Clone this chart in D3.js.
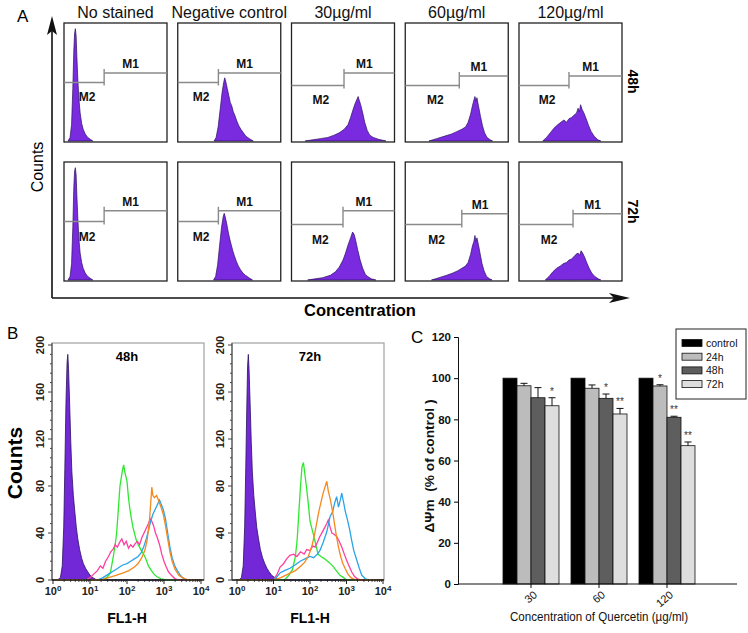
<!DOCTYPE html>
<html><head><meta charset="utf-8">
<script src="https://cdn.jsdelivr.net/npm/d3@7"></script>
<style>
html,body{margin:0;padding:0;background:#fff;}
svg text{font-family:"Liberation Sans",Arial,sans-serif;}
</style></head>
<body>
<svg id="chart" width="748" height="633"></svg>
<script>
// ---------------- DATA ----------------
// Panel A
const concLabels = ["No stained","Negative control","30µg/ml","60µg/ml","120µg/ml"];
const timeLabelsA = ["48h","72h"];
// histograms: [log10 decade, % of box height]
const histA48 = [
  [[0.12,0],[0.2,3],[0.26,14],[0.31,45],[0.35,78],[0.38,92],[0.41,96],[0.44,90],[0.47,72],[0.51,52],[0.55,36],[0.6,24],[0.66,15],[0.72,10],[0.8,6],[0.9,3],[1.0,1.5],[1.1,0]],
  [[1.4,0],[1.48,3],[1.56,12],[1.64,27],[1.72,42],[1.78,50],[1.82,54],[1.86,51],[1.92,45],[1.98,39],[2.04,33],[2.1,30],[2.16,25],[2.22,22],[2.3,17],[2.38,13],[2.46,10],[2.56,7],[2.66,4],[2.8,2],[2.95,0]],
  [[0.5,0],[0.8,1],[1.1,2],[1.4,3],[1.65,5],[1.85,7],[2.05,10],[2.2,14],[2.3,20],[2.4,27],[2.48,32],[2.54,35],[2.6,38],[2.64,35],[2.7,31],[2.78,24],[2.86,16],[2.96,9],[3.06,5],[3.2,3],[3.4,1.5],[3.7,0]],
  [[0.9,0],[1.2,2],[1.5,4],[1.8,6],[2.0,8],[2.2,10],[2.35,12],[2.45,16],[2.55,23],[2.62,30],[2.68,35],[2.72,38],[2.76,34],[2.8,37],[2.86,30],[2.94,21],[3.02,13],[3.1,7],[3.2,3],[3.32,1],[3.42,0]],
  [[0.9,0],[1.05,3],[1.2,7],[1.35,11],[1.5,14],[1.62,16],[1.74,18],[1.84,16],[1.94,19],[2.04,20],[2.14,22],[2.24,24],[2.3,28],[2.35,25],[2.4,31],[2.46,27],[2.53,24],[2.62,19],[2.72,13],[2.82,8],[2.94,4],[3.08,1],[3.2,0]]
];
const histA72 = [
  [[0.12,0],[0.2,3],[0.26,14],[0.31,45],[0.35,80],[0.38,93],[0.41,96],[0.44,90],[0.47,72],[0.51,52],[0.55,35],[0.6,23],[0.66,15],[0.72,10],[0.8,6],[0.9,3],[1.0,1.5],[1.1,0]],
  [[1.38,0],[1.46,3],[1.54,13],[1.62,30],[1.7,46],[1.76,54],[1.8,57],[1.84,54],[1.9,48],[1.96,41],[2.02,35],[2.08,30],[2.14,25],[2.2,21],[2.28,16],[2.36,12],[2.44,9],[2.54,6],[2.64,4],[2.78,2],[2.92,0]],
  [[0.6,0],[0.9,1],[1.2,2],[1.5,4],[1.7,7],[1.85,11],[2.0,17],[2.1,23],[2.2,30],[2.3,36],[2.38,41],[2.44,39],[2.5,34],[2.58,26],[2.68,17],[2.78,10],[2.88,5],[2.98,3],[3.12,1],[3.3,0]],
  [[1.0,0],[1.3,2],[1.6,4],[1.85,6],[2.05,8],[2.2,10],[2.35,12],[2.45,15],[2.55,22],[2.62,29],[2.68,33],[2.72,38],[2.76,33],[2.8,36],[2.86,30],[2.93,22],[3.0,14],[3.08,8],[3.18,3],[3.3,1],[3.4,0]],
  [[1.0,0],[1.15,3],[1.3,7],[1.45,10],[1.6,12],[1.72,14],[1.84,15],[1.94,17],[2.04,18],[2.14,20],[2.22,22],[2.3,23],[2.36,21],[2.42,25],[2.48,23],[2.55,20],[2.64,15],[2.74,10],[2.84,6],[2.96,3],[3.1,1],[3.2,0]]
];
// gate thresholds (decade) per panel
const gateA48 = [1.55, 1.57, 2.04, 2.10, 1.94];
const gateA72 = [1.55, 1.57, 2.00, 2.20, 2.10];

// Panel B
const timeLabelsB = ["48h","72h"];
const countTicks = [0,40,80,120,160,200];
const decadeTicks = [0,1,2,3,4];
const purple48 = [[0,0],[0.12,0],[0.2,2],[0.25,12],[0.29,45],[0.32,95],[0.35,150],[0.38,185],[0.4,192],[0.42,180],[0.45,150],[0.48,118],[0.51,92],[0.55,72],[0.59,58],[0.63,45],[0.67,35],[0.72,26],[0.77,19],[0.82,14],[0.88,10],[0.94,7],[1.0,4],[1.08,2],[1.18,0],[4,0]];
const green48 = [[0,0],[1.3,0],[1.45,2],[1.55,6],[1.63,20],[1.68,30],[1.72,40],[1.77,62],[1.81,80],[1.85,88],[1.88,94],[1.91,98],[1.94,92],[1.97,88],[2.0,84],[2.04,70],[2.08,60],[2.12,52],[2.16,45],[2.2,40],[2.25,34],[2.3,30],[2.34,28],[2.39,25],[2.43,23],[2.48,20],[2.52,17],[2.58,12],[2.66,8],[2.73,5],[2.8,3],[2.92,1],[3.05,0],[4,0]];
const pink48 = [[0,0],[0.9,0],[1.0,2],[1.1,5],[1.2,8],[1.28,12],[1.35,10],[1.42,16],[1.5,20],[1.56,24],[1.62,26],[1.68,30],[1.74,28],[1.8,32],[1.86,35],[1.92,30],[1.98,33],[2.04,27],[2.1,30],[2.16,28],[2.22,31],[2.28,33],[2.34,30],[2.4,36],[2.46,40],[2.52,44],[2.58,48],[2.63,52],[2.67,50],[2.72,46],[2.77,40],[2.82,36],[2.88,30],[2.94,22],[3.0,16],[3.06,11],[3.12,7],[3.2,4],[3.3,1],[3.4,0],[4,0]];
const blue48 = [[0,0],[1.2,0],[1.35,2],[1.5,5],[1.6,7],[1.7,9],[1.8,11],[1.9,13],[2.0,14],[2.1,16],[2.2,18],[2.3,20],[2.38,23],[2.45,28],[2.52,35],[2.58,42],[2.64,50],[2.7,56],[2.76,60],[2.82,64],[2.88,68],[2.93,64],[2.98,60],[3.04,52],[3.1,40],[3.16,28],[3.22,19],[3.28,13],[3.34,9],[3.42,5],[3.5,2],[3.6,0],[4,0]];
const orange48 = [[0,0],[1.3,0],[1.5,2],[1.7,4],[1.9,6],[2.05,8],[2.2,11],[2.3,14],[2.4,19],[2.48,25],[2.54,33],[2.6,48],[2.64,65],[2.67,79],[2.7,72],[2.74,70],[2.8,72],[2.86,67],[2.92,62],[2.98,56],[3.04,46],[3.1,35],[3.16,24],[3.22,16],[3.3,9],[3.4,4],[3.5,2],[3.65,0],[4,0]];
const purple72 = [[0,0],[0.05,0],[0.12,2],[0.17,12],[0.21,45],[0.24,95],[0.27,150],[0.29,182],[0.31,192],[0.33,180],[0.36,150],[0.39,118],[0.42,92],[0.46,72],[0.5,58],[0.54,45],[0.59,35],[0.64,26],[0.7,19],[0.76,14],[0.82,10],[0.88,7],[0.95,4],[1.04,2],[1.14,0],[4,0]];
const green72 = [[0,0],[1.3,0],[1.42,4],[1.52,9],[1.6,20],[1.65,35],[1.7,60],[1.74,80],[1.78,96],[1.82,100],[1.86,90],[1.9,80],[1.95,66],[2.0,50],[2.05,44],[2.1,38],[2.16,30],[2.22,22],[2.3,20],[2.4,18],[2.52,15],[2.62,12],[2.72,8],[2.82,4],[2.92,2],[3.0,0],[4,0]];
const pink72 = [[0,0],[1.0,0],[1.1,5],[1.18,11],[1.28,14],[1.36,18],[1.45,21],[1.55,22],[1.64,20],[1.74,24],[1.84,22],[1.91,26],[2.0,25],[2.08,29],[2.14,28],[2.2,32],[2.27,37],[2.34,41],[2.41,45],[2.46,48],[2.5,51],[2.55,45],[2.6,40],[2.66,39],[2.73,37],[2.8,33],[2.87,28],[2.94,22],[3.0,17],[3.07,12],[3.14,7],[3.22,3],[3.3,1],[3.4,0],[4,0]];
const blue72 = [[0,0],[1.0,0],[1.1,3],[1.18,6],[1.3,8],[1.45,10],[1.6,13],[1.73,16],[1.86,18],[2.0,20],[2.1,19],[2.2,22],[2.27,25],[2.36,32],[2.46,41],[2.55,54],[2.62,58],[2.68,66],[2.73,71],[2.78,62],[2.83,68],[2.87,74],[2.92,66],[2.97,58],[3.02,52],[3.08,44],[3.14,34],[3.2,25],[3.28,17],[3.35,10],[3.42,4],[3.52,1],[3.62,0],[4,0]];
const orange72 = [[0,0],[1.0,0],[1.2,2],[1.4,5],[1.6,8],[1.75,12],[1.85,15],[1.95,20],[2.0,24],[2.06,30],[2.12,38],[2.18,48],[2.24,58],[2.3,66],[2.36,74],[2.42,80],[2.46,84],[2.5,76],[2.56,68],[2.62,58],[2.67,48],[2.72,38],[2.78,28],[2.84,20],[2.9,14],[2.96,10],[3.04,5],[3.12,2],[3.25,0],[4,0]];

// Panel C
const cCategories = ["30","60","120"];
const cSeries = ["control","24h","48h","72h"];
const controlVals = [100, 100, 100];
const h24Vals = [96.3, 95.1, 96.2];
const h48Vals = [90.5, 90.2, 81.0];
const h72Vals = [86.6, 82.6, 67.2];
const controlErr = [0, 0, 0];
const h24Err = [1.2, 1.6, 0.6];
const h48Err = [4.9, 2.1, 0.5];
const h72Err = [3.9, 2.7, 1.8];
const controlSig = ["", "", ""];
const h24Sig = ["", "", "*"];
const h48Sig = ["", "*", "**"];
const h72Sig = ["*", "**", "**"];
const cTicks = [0,20,40,60,80,100,120];

// ---------------- DRAW ----------------
const svg = d3.select("#chart");
const FONT = '"Liberation Sans",Arial,sans-serif';

// ===== Panel A =====
svg.append("text").attr("x",17).attr("y",22).attr("font-size",17).text("A");
const colA = d3.scaleBand().domain(concLabels).range([64,622]).paddingInner(0.0945).paddingOuter(0);
const rowA = d3.scaleBand().domain(timeLabelsA).range([23,281]).paddingInner(0.144).paddingOuter(0);
const gateLevels = {"48h":{m1:0.42,m2:0.5},"72h":{m1:0.41,m2:0.5}};

concLabels.forEach(c=>{
  svg.append("text").attr("x",colA(c)+colA.bandwidth()/2).attr("y",18)
    .attr("text-anchor","middle").attr("font-size",16).attr("fill","#111").text(c);
});

timeLabelsA.forEach((t,ri)=>{
  const hists = ri===0 ? histA48 : histA72;
  const gates = ri===0 ? gateA48 : gateA72;
  concLabels.forEach((c,ci)=>{
    const bx = colA(c), bw = colA.bandwidth(), by = rowA(t), bh = rowA.bandwidth();
    const x = d3.scaleLinear().domain([0,4]).range([bx+1,bx+bw-1]);
    const y = d3.scaleLinear().domain([0,100]).range([by+bh-1,by+1]);
    const g = svg.append("g");
    const area = d3.area().x(d=>x(d[0])).y0(y(0)).y1(d=>y(d[1]));
    g.append("path").datum(hists[ci]).attr("d",area)
      .attr("fill","#7a2be0").attr("stroke","#2a1060").attr("stroke-width",0.7);
    g.append("rect").attr("x",bx).attr("y",by).attr("width",bw).attr("height",bh)
      .attr("fill","none").attr("stroke","#222").attr("stroke-width",1.3);
    // gates
    const gx = x(gates[ci]);
    const lv = gateLevels[t];
    const m1y = by + bh*lv.m1 + (ci>=3?3:0), m2y = by + bh*lv.m2 + (ci>=2?3:0);
    g.append("line").attr("x1",bx).attr("x2",gx).attr("y1",m2y).attr("y2",m2y).attr("stroke","#8a8a8a").attr("stroke-width",1.4);
    g.append("line").attr("x1",gx).attr("x2",bx+bw).attr("y1",m1y).attr("y2",m1y).attr("stroke","#8a8a8a").attr("stroke-width",1.4);
    g.append("line").attr("x1",gx).attr("x2",gx).attr("y1",m1y-4).attr("y2",m2y+3).attr("stroke","#8a8a8a").attr("stroke-width",1.4);
    g.append("text").attr("x",(gx+bx+bw)/2-5).attr("y",m1y-5).attr("text-anchor","middle")
      .attr("font-size",12).attr("font-weight","bold").attr("fill","#111").text("M1");
    g.append("text").attr("x",(bx+gx)/2+3).attr("y",m2y+19).attr("text-anchor","middle")
      .attr("font-size",12).attr("font-weight","bold").attr("fill","#111").text("M2");
  });
  const cy = rowA(t)+rowA.bandwidth()/2 + (ri===0?-1:-10);
  svg.append("text").attr("transform",`translate(628,${cy}) rotate(90)`)
    .attr("text-anchor","middle").attr("font-size",14).attr("font-weight","bold").text(t);
});

// A arrows
svg.append("line").attr("x1",52).attr("y1",298).attr("x2",52).attr("y2",26).attr("stroke","#111").attr("stroke-width",1.6);
svg.append("path").attr("d","M52,16 L57,35 L52,31 L47,35 Z").attr("fill","#111");
svg.append("line").attr("x1",52).attr("y1",298).attr("x2",620).attr("y2",298).attr("stroke","#111").attr("stroke-width",1.6);
svg.append("path").attr("d","M630,298 L609,293 L614,298 L609,303 Z").attr("fill","#111");
svg.append("text").attr("transform","translate(43,167) rotate(-90)").attr("text-anchor","middle")
  .attr("font-size",16).text("Counts");
svg.append("text").attr("x",360).attr("y",316).attr("text-anchor","middle")
  .attr("font-size",16.5).attr("font-weight","bold").text("Concentration");

// ===== Panel B =====
svg.append("text").attr("x",7).attr("y",339).attr("font-size",17).text("B");
svg.append("text").attr("transform","translate(22,463) rotate(-90)").attr("text-anchor","middle")
  .attr("font-size",21).attr("font-weight","bold").text("Counts");

const bPlots = [
  {t:"48h", left:52, right:204, x0:53, x1:201, curves:[purple48,green48,pink48,blue48,orange48]},
  {t:"72h", left:232, right:384, x0:237, x1:383, curves:[purple72,green72,pink72,blue72,orange72]}
];
const lineColors = ["#2ee82e","#ff3f9f","#2aa4e8","#f5891e"];
bPlots.forEach(p=>{
  const top = 343, bot = 580;
  const x = d3.scaleLinear().domain([0,4]).range([p.x0,p.x1]);
  const y = d3.scaleLinear().domain([0,200]).range([bot,345]);
  const g = svg.append("g");
  g.append("rect").attr("x",p.left).attr("y",top).attr("width",p.right-p.left).attr("height",bot-top)
    .attr("fill","none").attr("stroke","#a0a0a0").attr("stroke-width",1.2);
  const clipId = "clip"+p.t;
  g.append("clipPath").attr("id",clipId).append("rect").attr("x",p.left).attr("y",top).attr("width",p.right-p.left).attr("height",bot-top+1);
  const cg = g.append("g").attr("clip-path",`url(#${clipId})`);
  const area = d3.area().x(d=>x(d[0])).y0(y(0)).y1(d=>y(d[1]));
  cg.append("path").datum(p.curves[0]).attr("d",area).attr("fill","#7328d8").attr("stroke","#2a1060").attr("stroke-width",0.8);
  const line = d3.line().x(d=>x(d[0])).y(d=>y(d[1]));
  p.curves.slice(1).forEach((c,i)=>{
    cg.append("path").datum(c).attr("d",line).attr("fill","none").attr("stroke",lineColors[i]).attr("stroke-width",1.3);
  });
  // y axis
  g.append("line").attr("x1",p.left).attr("x2",p.left).attr("y1",top).attr("y2",bot).attr("stroke","#555").attr("stroke-width",1.2);
  d3.range(0,201,8).forEach(v=>{
    const major = v%40===0;
    g.append("line").attr("x1",p.left-(major?4:2)).attr("x2",p.left).attr("y1",y(v)).attr("y2",y(v)).attr("stroke","#444").attr("stroke-width",1);
  });
  countTicks.forEach(v=>{
    g.append("text").attr("transform",`translate(${p.left-8},${y(v)}) rotate(-90)`).attr("text-anchor","middle")
      .attr("font-size",11).attr("font-weight","bold").attr("fill","#222").text(v);
  });
  // x axis
  g.append("line").attr("x1",p.left).attr("x2",p.right).attr("y1",bot).attr("y2",bot).attr("stroke","#222").attr("stroke-width",1.6);
  decadeTicks.forEach(d=>{
    g.append("line").attr("x1",x(d)).attr("x2",x(d)).attr("y1",bot-1).attr("y2",bot+4).attr("stroke","#222").attr("stroke-width",1);
    if(d<4) for(let k=2;k<10;k++){
      const xv = x(d+Math.log10(k));
      g.append("line").attr("x1",xv).attr("x2",xv).attr("y1",bot-1).attr("y2",bot+2).attr("stroke","#222").attr("stroke-width",0.8);
    }
    const tx = g.append("text").attr("x",x(d)).attr("y",bot+15).attr("text-anchor","middle")
      .attr("font-size",11).attr("font-weight","bold").attr("fill","#222");
    tx.append("tspan").text("10");
    tx.append("tspan").attr("dy",-4).attr("font-size",8).text(d);
  });
  g.append("text").attr("x",(p.x0+p.x1)/2).attr("y",361).attr("text-anchor","middle")
    .attr("font-size",13).attr("font-weight","bold").text(p.t);
  g.append("text").attr("x",(p.x0+p.x1)/2).attr("y",623).attr("text-anchor","middle")
    .attr("font-size",14).attr("font-weight","bold").text("FL1-H");
});

// ===== Panel C =====
svg.append("text").attr("x",411).attr("y",343).attr("font-size",17).text("C");
const yC = d3.scaleLinear().domain([0,120]).range([584,337]);
const xC = d3.scalePoint().domain(["", ...cCategories, " "]).range([463,735]);
const barW = 14;
const seriesVals = [controlVals,h24Vals,h48Vals,h72Vals];
const seriesErr = [controlErr,h24Err,h48Err,h72Err];
const seriesSig = [controlSig,h24Sig,h48Sig,h72Sig];
const seriesFill = ["#000000","#bcbcbc","#5e5e5e","#dedede"];
const gC = svg.append("g");
const yAxisC = d3.axisLeft(yC).tickValues(cTicks).tickSize(4).tickPadding(3);
const ya = gC.append("g").attr("transform","translate(458,0)").call(yAxisC);
ya.selectAll("text").attr("font-size",11.5).attr("font-weight","bold").attr("font-family",FONT).attr("fill","#111");
ya.select(".domain").attr("stroke","#111");
cSeries.forEach((s,si)=>{
  cCategories.forEach((c,ci)=>{
    const v = seriesVals[si][ci], e = seriesErr[si][ci];
    const bx = xC(c) - 2*barW + si*barW;
    gC.append("rect").attr("x",bx).attr("y",yC(v)).attr("width",barW).attr("height",yC(0)-yC(v))
      .attr("fill",seriesFill[si]).attr("stroke","#111").attr("stroke-width",0.8);
    if(e>0){
      const cx = bx + barW/2;
      gC.append("line").attr("x1",cx).attr("x2",cx).attr("y1",yC(v)).attr("y2",yC(v+e)).attr("stroke","#111").attr("stroke-width",1);
      gC.append("line").attr("x1",cx-3.5).attr("x2",cx+3.5).attr("y1",yC(v+e)).attr("y2",yC(v+e)).attr("stroke","#111").attr("stroke-width",1);
    }
    const sig = seriesSig[si][ci];
    if(sig){
      gC.append("text").attr("x",bx+barW/2).attr("y",yC(v+e)-3).attr("text-anchor","middle")
        .attr("font-size",10).attr("font-family",FONT).attr("fill","#333").text(sig);
    }
  });
});
// x axis
gC.append("line").attr("x1",458).attr("x2",737).attr("y1",584).attr("y2",584).attr("stroke","#111").attr("stroke-width",1.2);
cCategories.forEach(c=>{
  gC.append("line").attr("x1",xC(c)).attr("x2",xC(c)).attr("y1",584).attr("y2",588).attr("stroke","#111");
  gC.append("text").attr("transform",`translate(${xC(c)+7},${596}) rotate(-40)`).attr("text-anchor","end")
    .attr("font-size",11).attr("font-family",FONT).attr("fill","#111").text(c);
});
gC.append("text").attr("x",599).attr("y",621).attr("text-anchor","middle")
  .attr("font-size",12.5).attr("font-family",FONT).attr("fill","#111")
  .attr("textLength",178).attr("lengthAdjust","spacingAndGlyphs").text("Concentration of Quercetin (µg/ml)");
gC.append("text").attr("transform","translate(434,466) rotate(-90)").attr("text-anchor","middle")
  .attr("font-size",12).attr("font-weight","bold").attr("font-family",FONT).attr("fill","#111")
  .attr("textLength",133).attr("lengthAdjust","spacingAndGlyphs")
  .attr("xml:space","preserve").text("\u0394\u03A8m  (% of control )");
// legend
const lg = gC.append("g");
lg.append("rect").attr("x",676).attr("y",329).attr("width",70).attr("height",70).attr("fill","#fff").attr("stroke","#222").attr("stroke-width",1);
cSeries.forEach((s,i)=>{
  const ly = 343 + i*13.7;
  lg.append("rect").attr("x",682).attr("y",ly-3.5).attr("width",20).attr("height",7)
    .attr("fill",seriesFill[i]).attr("stroke","#111").attr("stroke-width",0.8);
  lg.append("text").attr("x",706).attr("y",ly+4).attr("font-size",10.5).attr("font-family",FONT).attr("fill","#111").text(s);
});
</script>
</body></html>
